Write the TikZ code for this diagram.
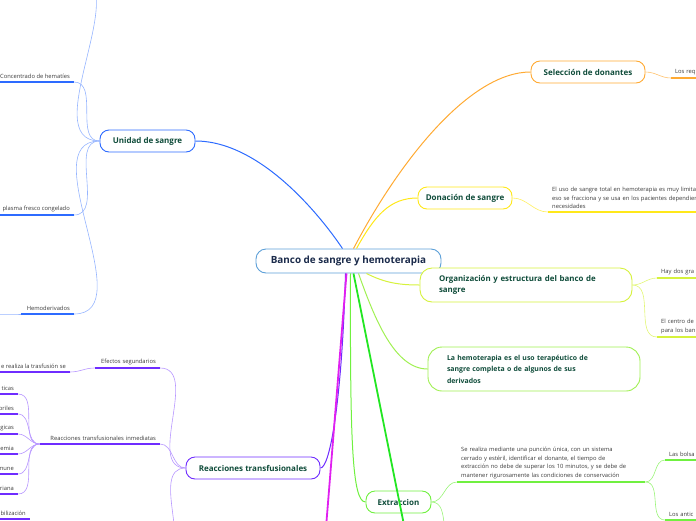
\documentclass[tikz,border=0pt]{standalone}
\usepackage{fontspec}
\setmainfont{Open Sans}
\usetikzlibrary{positioning}
\definecolor{cCore}{HTML}{5DA0D8}
\definecolor{cCoreText}{HTML}{1B2B4B}
\definecolor{cText}{HTML}{0F4C3A}
\definecolor{cLeaf}{HTML}{3A3A3A}
\definecolor{cBlue}{HTML}{2D6BFF}
\definecolor{cOrange}{HTML}{FFAA33}
\definecolor{cYellow}{HTML}{FFE81A}
\definecolor{cLime}{HTML}{D6F23C}
\definecolor{cHemo}{HTML}{A0F052}
\definecolor{cExtr}{HTML}{70F040}
\definecolor{cGreen}{HTML}{22E622}
\definecolor{cPurple}{HTML}{6F2CFF}
\definecolor{cMagenta}{HTML}{E020F0}
\newcommand{\leaffont}{\fontsize{5.8}{8.7}\selectfont}

\begin{document}
\begin{tikzpicture}[x=1pt, y=-1pt,
  core/.style={draw=cCore, line width=0.9pt, rounded corners=10pt, fill=white,
               text=cCoreText, font=\bfseries\fontsize{9.9}{12}\selectfont},
  topic/.style={draw=#1, line width=0.9pt, rounded corners=9pt, fill=white, text=cText,
                font=\bfseries\fontsize{8}{11.3}\selectfont, minimum height=22pt, inner sep=3pt},
  lleaf/.style={font=\leaffont, text=cLeaf, anchor=south east, inner xsep=4pt, inner ysep=3pt, align=left},
  rleaf/.style={font=\leaffont, text=cLeaf, anchor=south west, inner xsep=4pt, inner ysep=3pt, align=left},
  link/.style={draw=#1, line width=1pt},
  twig/.style={draw=#1, line width=0.6pt},
  ul/.style={draw=#1, line width=1.6pt}]
\useasboundingbox (0,0) rectangle (696,520);

% centre and main topics
\node[core, minimum width=185pt, minimum height=24pt] (core) at (348.5,261) {Banco de sangre y hemoterapia};
\node[topic=cBlue, minimum width=95pt] (unidad) at (147.5,141) {Unidad de sangre};
\node[topic=cOrange, minimum width=114pt] (selec) at (588,72) {Selección de donantes};
\node[topic=cYellow, minimum width=94pt] (donac) at (465,198) {Donación de sangre};
\node[topic=cLime, minimum height=34pt, text width=174pt, inner xsep=19pt, align=left,
      rounded corners=12pt, font=\bfseries\fontsize{7.9}{11}\selectfont] (organ) at (526,285)
      {Organización y estructura del banco de\\sangre};
\node[topic=cHemo, minimum height=44pt, text width=174pt, inner xsep=19pt, align=left,
      rounded corners=14pt, font=\bfseries\fontsize{6.9}{11.5}\selectfont] (hemo) at (534,369)
      {La hemoterapia es el uso terapéutico de\\sangre completa o de algunos de sus\\derivados};
\node[topic=cExtr, minimum width=65pt] (extr) at (398.5,502) {Extraccion};
\node[topic=cPurple, minimum width=134pt] (reac) at (253,468) {Reacciones transfusionales};

% unidad de sangre
\coordinate (u0) at (74,-25);
\node[lleaf] (hemat) at (74,82) {Concentrado de hematíes};
\node[lleaf] (plasma) at (74,215) {plasma fresco congelado};
\node[lleaf, text width=45pt, align=right] (hemod) at (74,314) {Hemoderivados};
\coordinate (hemod0) at (-10,314);

% reacciones transfusionales
\node[lleaf, text width=57pt, align=right] (efect) at (160,368) {Efectos segundarios};
\node[lleaf] (trasf) at (70,372) {e realiza la trasfusión se};
\node[lleaf, text width=112pt, align=right] (inmed) at (160,444) {Reacciones transfusionales inmediatas};
\foreach \n/\t/\y in {r1/ticas/394, r2/briles/414, r3/gicas/434, r4/emia/454, r5/mune/474, r6/riana/494}
  \node[lleaf] (\n) at (18,\y) {\t};
\coordinate (reac0) at (160,560);
\node[lleaf] (movil) at (30,519) {bilización};

% extraccion
\node[rleaf, text width=180pt] (proc) at (457,482)
  {Se realiza mediante una punción única, con un sistema\\cerrado y estéril, identificar el donante, el tiempo de\\extracción no debe de superar los 10 minutos, y se debe de\\mantener rigurosamente las condiciones de conservación};
\coordinate (extr0) at (457,548);
\node[rleaf, text width=40pt] (bolsa) at (665,460) {Las bolsa};
\node[rleaf, text width=40pt] (antic) at (665,520) {Los antic};

% organizacion, donacion, seleccion
\node[rleaf, text width=40pt] (grados) at (657,278) {Hay dos gra};
\node[rleaf, text width=40pt] (centro) at (657,337) {El centro de\\para los ban};
\node[rleaf, text width=170pt] (usos) at (548,212)
  {El uso de sangre total en hemoterapia es muy limita\\eso se fracciona y se usa en los pacientes dependien\\necesidades};
\node[rleaf, text width=40pt] (requis) at (671,78) {Los req};

% links from the centre
\coordinate (green0) at (407,540);
\coordinate (magenta0) at (325,540);
\draw[link=cBlue] ([xshift=-6pt]core.north) .. controls (320,215) and (260,141) .. (unidad.east);
\draw[link=cOrange] ([xshift=5pt]core.north) .. controls (400,160) and (470,72) .. (selec.west);
\draw[link=cYellow] ([xshift=8pt]core.north) .. controls (375,215) and (390,198) .. (donac.west);
\draw[link=cLime] ([xshift=18pt]core.south) .. controls (385,283) and (400,285) .. (organ.west);
\draw[link=cHemo] ([xshift=10pt]core.south) .. controls (375,320) and (395,369) .. (hemo.west);
\draw[link=cExtr] ([xshift=2pt]core.south) .. controls (350,440) and (352,502) .. (extr.west);
\draw[link=cPurple] ([xshift=-3pt]core.south) .. controls (342,400) and (330,468) .. (reac.east);
\draw[link=cGreen, line width=1.8pt] ([xshift=5pt]core.south) -- (green0);
\draw[link=cMagenta, line width=1.8pt] ([xshift=-2pt]core.south) -- (magenta0);

% twigs
\foreach \a/\b in {unidad.west/u0, unidad.west/hemat.south east, unidad.west/plasma.south east,
                   unidad.west/hemod.south east, hemod.south west/hemod0}
  \draw[twig=cBlue!50] (\a) to[out=180, in=0] (\b);
\foreach \a/\b in {reac.west/efect.south east, reac.west/inmed.south east, reac.west/reac0,
                   efect.south west/trasf.south east, inmed.south west/r1.south east,
                   inmed.south west/r2.south east, inmed.south west/r3.south east,
                   inmed.south west/r4.south east, inmed.south west/r5.south east,
                   inmed.south west/r6.south east}
  \draw[twig=cPurple!50] (\a) to[out=180, in=0] (\b);
\foreach \a/\b in {extr.east/proc.south west, extr.east/extr0,
                   proc.south east/bolsa.south west, proc.south east/antic.south west}
  \draw[twig=cExtr!70] (\a) to[out=0, in=180] (\b);
\foreach \a/\b/\c in {organ.east/grados.south west/cLime, organ.east/centro.south west/cLime,
                      donac.east/usos.south west/cYellow, selec.east/requis.south west/cOrange}
  \draw[twig=\c!70] (\a) to[out=0, in=180] (\b);

% underlines
\foreach \n/\c in {hemat/cBlue, plasma/cBlue, hemod/cBlue, efect/cPurple, trasf/cPurple,
                   inmed/cPurple, r1/cPurple, r2/cPurple, r3/cPurple, r4/cPurple, r5/cPurple,
                   r6/cPurple, movil/cPurple, proc/cExtr, bolsa/cExtr, antic/cExtr,
                   grados/cLime, centro/cLime, usos/cYellow, requis/cOrange}
  \draw[ul=\c] (\n.south west) -- (\n.south east);
\end{tikzpicture}
\end{document}
